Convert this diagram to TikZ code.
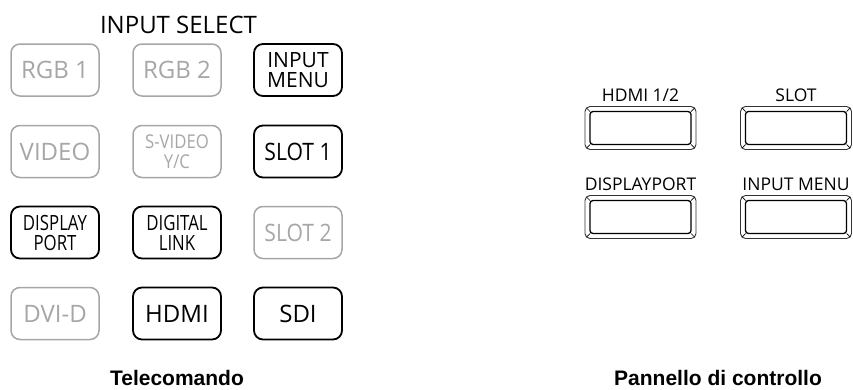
\documentclass[tikz,border=0pt]{standalone}
\usepackage{fontspec}
\setmainfont{Open Sans}
\newfontfamily\condfont[FakeStretch=0.8]{Open Sans}
\newfontfamily\semifont[FakeStretch=0.88]{Open Sans}
\newfontfamily\capfont{Liberation Sans}

\begin{document}
\begin{tikzpicture}[x=1pt,y=-1pt,
  btn/.style={draw,line width=1.8pt,rounded corners=9pt,minimum width=88pt,minimum height=52pt,
    inner sep=0pt,outer sep=0pt,align=center,font=\fontsize{24}{26}\selectfont},
  off/.style={btn,draw=black!35,text=black!35,line width=1.5pt},
  two/.style={font=\fontsize{21}{20}\selectfont},
  slim/.style={font=\condfont\fontsize{21}{20}\selectfont},
  semi/.style={font=\semifont\fontsize{24}{26}\selectfont},
  pbtn/.style={draw=black!80,line width=0.9pt,rounded corners=5pt,minimum width=111pt,minimum height=43pt,
    inner sep=0pt,outer sep=0pt},
  lbl/.style={font=\fontsize{17.5}{18}\selectfont,inner sep=0pt,anchor=base},
  caption/.style={font=\capfont\bfseries\fontsize{21}{24}\selectfont,inner sep=0pt,anchor=base}]
  \useasboundingbox (0,0) rectangle (853,389);
  % telecomando
  \node[anchor=base,font=\fontsize{24}{26}\selectfont,inner sep=0pt] (title) at (178.5,33) {INPUT SELECT};
  \node[off] (rgbA) at (55,70) {RGB 1};
  \node[off] (rgbB) at (177,70) {RGB 2};
  \node[btn,two] (inmenu) at (298,70) {INPUT\\MENU};
  \node[off] (video) at (55,151.5) {VIDEO};
  \node[off,font=\semifont\fontsize{19}{19.5}\selectfont] (svideo) at (177,151.5) {S-VIDEO\\Y/C};
  \node[btn,semi] (slotA) at (298,151.5) {SLOT 1};
  \node[btn,slim] (dport) at (55,232.5) {DISPLAY\\PORT};
  \node[btn,slim] (dlink) at (177,232.5) {DIGITAL\\LINK};
  \node[off,semi] (slotB) at (298,232.5) {SLOT 2};
  \node[off] (dvid) at (55,313.5) {DVI-D};
  \node[btn] (hdmi) at (177,313.5) {HDMI};
  \node[btn] (sdi) at (298,313.5) {SDI};
  \node[caption] (tele) at (177,385) {Telecomando};
  % pannello di controllo
  \node[pbtn] (phdmi) at (640.5,128) {};
  \node[pbtn] (pslot) at (796,128) {};
  \node[pbtn] (pdp) at (640.5,217) {};
  \node[pbtn] (pmenu) at (796,217) {};
  \node[lbl] (lhdmi) at (640.5,101) {HDMI 1/2};
  \node[lbl] (lslot) at (796,101) {SLOT};
  \node[lbl] (ldp) at (640.5,190) {DISPLAYPORT};
  \node[lbl] (lmenu) at (796,190) {INPUT MENU};
  \foreach \b in {phdmi,pslot,pdp,pmenu}{
    \draw[line width=1.3pt,rounded corners=3pt] ([shift={(5,5)}]\b.north west) rectangle ([shift={(-5,-5)}]\b.south east);
    \draw[line width=0.7pt] ([shift={(1.5,1.5)}]\b.north west) -- ([shift={(5,5)}]\b.north west)
      ([shift={(-1.5,1.5)}]\b.north east) -- ([shift={(-5,5)}]\b.north east)
      ([shift={(1.5,-1.5)}]\b.south west) -- ([shift={(5,-5)}]\b.south west)
      ([shift={(-1.5,-1.5)}]\b.south east) -- ([shift={(-5,-5)}]\b.south east);
  }
  \node[caption] (pann) at (718,385) {Pannello di controllo};
\end{tikzpicture}
\end{document}
